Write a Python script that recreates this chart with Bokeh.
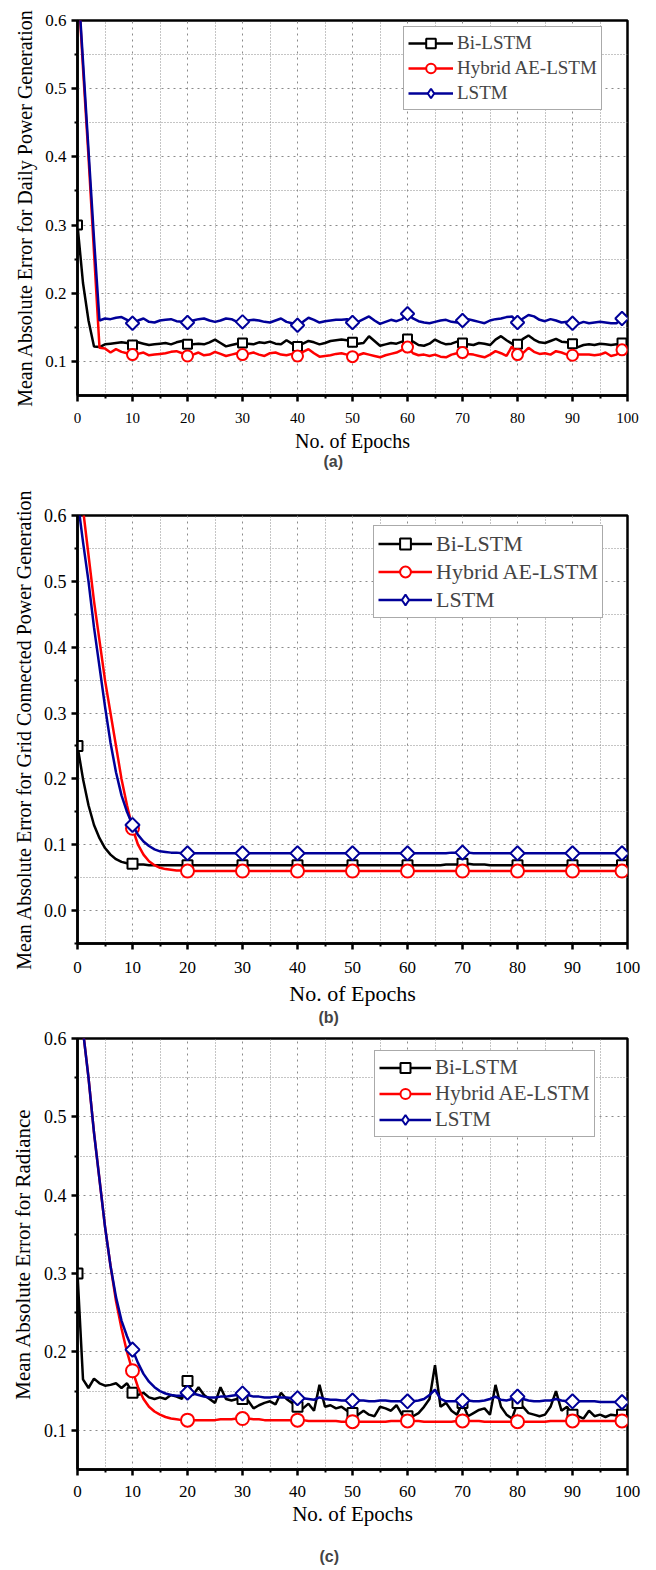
import math
from bokeh.plotting import figure
from bokeh.layouts import column
from bokeh.models import FixedTicker, Range1d, Title, Legend, LegendItem, PrintfTickFormatter
from bokeh.embed import file_html
from bokeh.resources import INLINE

EPOCHS = list(range(100))
MARK_IDX = [0, 10, 20, 30, 40, 50, 60, 70, 80, 90, 99]
SERIES_NAMES = ["Bi-LSTM", "Hybrid AE-LSTM", "LSTM"]
X_TICKS = [0, 10, 20, 30, 40, 50, 60, 70, 80, 90, 100]
X_MINOR = [5, 15, 25, 35, 45, 55, 65, 75, 85, 95]

# ---------------- panel (a): Daily Power Generation ----------------
BI_A = [0.300, 0.215, 0.160, 0.122, 0.121, 0.125, 0.126, 0.127, 0.128, 0.127,
        0.124, 0.128, 0.126, 0.124, 0.125, 0.126, 0.127, 0.125, 0.128, 0.130,
        0.125, 0.125, 0.126, 0.125, 0.128, 0.132, 0.127, 0.122, 0.124, 0.126,
        0.127, 0.126, 0.125, 0.128, 0.127, 0.129, 0.126, 0.125, 0.131, 0.126,
        0.122, 0.126, 0.130, 0.128, 0.125, 0.127, 0.130, 0.131, 0.132, 0.131,
        0.128, 0.126, 0.127, 0.137, 0.130, 0.123, 0.125, 0.127, 0.126, 0.129,
        0.133, 0.129, 0.124, 0.123, 0.126, 0.132, 0.128, 0.125, 0.126, 0.129,
        0.127, 0.125, 0.124, 0.127, 0.126, 0.124, 0.132, 0.137, 0.131, 0.126,
        0.125, 0.133, 0.138, 0.132, 0.128, 0.127, 0.130, 0.133, 0.129, 0.128,
        0.126, 0.121, 0.124, 0.125, 0.124, 0.126, 0.125, 0.124, 0.125, 0.127]
HY_A = [0.670, 0.530, 0.400, 0.260, 0.120, 0.119, 0.113, 0.118, 0.114, 0.112,
        0.110, 0.111, 0.113, 0.109, 0.110, 0.111, 0.112, 0.114, 0.115, 0.112,
        0.108, 0.110, 0.113, 0.109, 0.110, 0.114, 0.111, 0.108, 0.110, 0.112,
        0.110, 0.111, 0.113, 0.110, 0.108, 0.112, 0.113, 0.110, 0.109, 0.111,
        0.108, 0.114, 0.118, 0.112, 0.107, 0.108, 0.109, 0.111, 0.112, 0.110,
        0.107, 0.109, 0.112, 0.110, 0.108, 0.106, 0.109, 0.111, 0.113, 0.117,
        0.121, 0.112, 0.109, 0.110, 0.108, 0.110, 0.107, 0.106, 0.110, 0.112,
        0.113, 0.111, 0.110, 0.108, 0.106, 0.110, 0.115, 0.112, 0.108, 0.122,
        0.110, 0.112, 0.120, 0.114, 0.111, 0.112, 0.110, 0.115, 0.113, 0.110,
        0.109, 0.110, 0.110, 0.110, 0.109, 0.110, 0.113, 0.108, 0.110, 0.117]
LS_A = [0.670, 0.540, 0.410, 0.280, 0.160, 0.163, 0.162, 0.164, 0.165, 0.161,
        0.156, 0.160, 0.163, 0.158, 0.157, 0.160, 0.161, 0.162, 0.159, 0.158,
        0.157, 0.160, 0.162, 0.163, 0.160, 0.158, 0.160, 0.163, 0.162, 0.158,
        0.158, 0.160, 0.161, 0.160, 0.158, 0.157, 0.160, 0.163, 0.158, 0.156,
        0.153, 0.158, 0.164, 0.161, 0.157, 0.159, 0.160, 0.161, 0.161, 0.162,
        0.157, 0.158, 0.162, 0.166, 0.160, 0.155, 0.158, 0.161, 0.159, 0.162,
        0.170, 0.163, 0.159, 0.157, 0.156, 0.158, 0.160, 0.161, 0.158, 0.157,
        0.160, 0.162, 0.160, 0.158, 0.156, 0.160, 0.162, 0.163, 0.165, 0.166,
        0.157, 0.163, 0.168, 0.166, 0.161, 0.159, 0.162, 0.160, 0.157, 0.158,
        0.156, 0.155, 0.158, 0.156, 0.157, 0.158, 0.157, 0.156, 0.156, 0.163]

# ---------------- panel (b): Grid Connected Power Generation ----------------
BI_B = [0.250, 0.200, 0.160, 0.130, 0.110, 0.095, 0.085, 0.078, 0.074, 0.072,
        0.071, 0.070, 0.070, 0.069, 0.069, 0.069, 0.069, 0.069, 0.069, 0.069,
        0.069, 0.069, 0.069, 0.069, 0.069, 0.069, 0.069, 0.069, 0.069, 0.069,
        0.069, 0.069, 0.069, 0.069, 0.069, 0.069, 0.069, 0.069, 0.069, 0.069,
        0.069, 0.069, 0.069, 0.069, 0.069, 0.069, 0.069, 0.069, 0.069, 0.069,
        0.069, 0.069, 0.069, 0.069, 0.069, 0.069, 0.069, 0.069, 0.069, 0.069,
        0.069, 0.069, 0.069, 0.069, 0.069, 0.069, 0.069, 0.070, 0.070, 0.070,
        0.071, 0.071, 0.070, 0.070, 0.070, 0.069, 0.069, 0.069, 0.069, 0.069,
        0.069, 0.069, 0.069, 0.069, 0.069, 0.069, 0.069, 0.069, 0.069, 0.069,
        0.069, 0.069, 0.069, 0.069, 0.069, 0.069, 0.069, 0.069, 0.069, 0.069]
HY_B = [0.660, 0.610, 0.540, 0.470, 0.410, 0.350, 0.300, 0.250, 0.200, 0.160,
        0.125, 0.100, 0.085, 0.075, 0.069, 0.065, 0.063, 0.062, 0.061, 0.061,
        0.060, 0.060, 0.060, 0.060, 0.060, 0.060, 0.060, 0.060, 0.060, 0.060,
        0.060, 0.060, 0.060, 0.060, 0.060, 0.060, 0.060, 0.060, 0.060, 0.060,
        0.060, 0.060, 0.060, 0.060, 0.060, 0.060, 0.060, 0.060, 0.060, 0.060,
        0.060, 0.060, 0.060, 0.060, 0.060, 0.060, 0.060, 0.060, 0.060, 0.060,
        0.060, 0.060, 0.060, 0.060, 0.060, 0.060, 0.060, 0.060, 0.060, 0.060,
        0.060, 0.060, 0.060, 0.060, 0.060, 0.060, 0.060, 0.060, 0.060, 0.060,
        0.060, 0.060, 0.060, 0.060, 0.060, 0.060, 0.060, 0.060, 0.060, 0.060,
        0.060, 0.060, 0.060, 0.060, 0.060, 0.060, 0.060, 0.060, 0.060, 0.060]
LS_B = [0.625, 0.560, 0.500, 0.430, 0.370, 0.310, 0.255, 0.210, 0.175, 0.150,
        0.130, 0.115, 0.105, 0.098, 0.093, 0.090, 0.089, 0.088, 0.088, 0.087,
        0.087, 0.087, 0.087, 0.087, 0.087, 0.087, 0.087, 0.087, 0.087, 0.087,
        0.087, 0.087, 0.087, 0.087, 0.087, 0.087, 0.087, 0.087, 0.087, 0.087,
        0.087, 0.087, 0.087, 0.087, 0.087, 0.087, 0.087, 0.087, 0.087, 0.087,
        0.087, 0.087, 0.087, 0.087, 0.087, 0.087, 0.087, 0.087, 0.087, 0.087,
        0.087, 0.087, 0.087, 0.087, 0.087, 0.087, 0.087, 0.087, 0.088, 0.088,
        0.088, 0.088, 0.087, 0.087, 0.087, 0.087, 0.087, 0.087, 0.087, 0.087,
        0.087, 0.087, 0.087, 0.087, 0.087, 0.087, 0.087, 0.087, 0.087, 0.087,
        0.087, 0.087, 0.087, 0.087, 0.087, 0.087, 0.087, 0.087, 0.087, 0.087]

# ---------------- panel (c): Radiance ----------------
BI_C = [0.300, 0.165, 0.154, 0.166, 0.160, 0.157, 0.158, 0.160, 0.154, 0.160,
        0.148, 0.145, 0.148, 0.142, 0.140, 0.142, 0.140, 0.145, 0.143, 0.140,
        0.163, 0.145, 0.155, 0.145, 0.140, 0.135, 0.155, 0.140, 0.138, 0.140,
        0.140, 0.138, 0.128, 0.132, 0.135, 0.137, 0.133, 0.148, 0.140, 0.135,
        0.130, 0.128, 0.134, 0.125, 0.158, 0.130, 0.132, 0.128, 0.130, 0.125,
        0.122, 0.120, 0.125, 0.120, 0.118, 0.130, 0.128, 0.125, 0.132, 0.120,
        0.118, 0.118, 0.122, 0.130, 0.140, 0.183, 0.130, 0.135, 0.125, 0.120,
        0.135, 0.118, 0.122, 0.126, 0.128, 0.120, 0.158, 0.130, 0.120, 0.115,
        0.135, 0.130, 0.122, 0.120, 0.118, 0.120, 0.130, 0.150, 0.125, 0.130,
        0.120, 0.118, 0.115, 0.125, 0.118, 0.120, 0.117, 0.120, 0.119, 0.120]
HY_C = [0.660, 0.610, 0.550, 0.480, 0.420, 0.360, 0.310, 0.265, 0.230, 0.200,
        0.176, 0.155, 0.140, 0.130, 0.124, 0.120, 0.117, 0.115, 0.114, 0.113,
        0.113, 0.113, 0.113, 0.113, 0.113, 0.113, 0.114, 0.114, 0.114, 0.115,
        0.115, 0.115, 0.114, 0.114, 0.113, 0.113, 0.113, 0.113, 0.113, 0.113,
        0.113, 0.113, 0.112, 0.112, 0.112, 0.112, 0.112, 0.112, 0.111, 0.111,
        0.111, 0.111, 0.111, 0.111, 0.111, 0.111, 0.111, 0.112, 0.112, 0.112,
        0.112, 0.112, 0.112, 0.111, 0.111, 0.111, 0.111, 0.111, 0.111, 0.112,
        0.112, 0.112, 0.112, 0.112, 0.111, 0.111, 0.111, 0.111, 0.111, 0.111,
        0.111, 0.111, 0.111, 0.111, 0.111, 0.111, 0.112, 0.112, 0.112, 0.112,
        0.112, 0.112, 0.112, 0.112, 0.112, 0.112, 0.112, 0.112, 0.112, 0.112]
LS_C = [0.660, 0.610, 0.550, 0.480, 0.420, 0.360, 0.310, 0.270, 0.240, 0.220,
        0.203, 0.186, 0.172, 0.162, 0.155, 0.150, 0.147, 0.145, 0.144, 0.144,
        0.148, 0.147, 0.145, 0.143, 0.142, 0.142, 0.143, 0.143, 0.144, 0.145,
        0.147, 0.145, 0.143, 0.143, 0.142, 0.142, 0.143, 0.142, 0.142, 0.141,
        0.141, 0.141, 0.140, 0.139, 0.142, 0.140, 0.139, 0.139, 0.138, 0.138,
        0.138, 0.138, 0.138, 0.137, 0.137, 0.138, 0.138, 0.137, 0.137, 0.137,
        0.137, 0.137, 0.138, 0.140, 0.145, 0.152, 0.140, 0.137, 0.137, 0.137,
        0.138, 0.138, 0.137, 0.137, 0.138, 0.140, 0.143, 0.139, 0.138, 0.140,
        0.143, 0.140, 0.138, 0.137, 0.137, 0.138, 0.138, 0.140, 0.138, 0.137,
        0.137, 0.137, 0.137, 0.137, 0.137, 0.136, 0.136, 0.136, 0.136, 0.136]

COLORS = ["black", "#ff0000", "#000099"]
SERIF = "Liberation Serif"


def make_panel(series, y_lo, y_ticks, y_minor, ylabel, caption, height,
               borders, fonts, standoffs, legend_cfg, marker_sizes, cap_offset, spacer=None):
    left, right, top, bottom = borders
    tick_fs_x, tick_fs_y, xlab_fs, ylab_fs, leg_fs = fonts
    tick_so, lab_so, cap_so = standoffs
    p = figure(width=656, height=height, x_range=Range1d(0, 100), y_range=Range1d(y_lo, 0.6),
               output_backend="svg", toolbar_location=None,
               min_border_left=left, min_border_right=right,
               min_border_top=top, min_border_bottom=bottom)
    p.background_fill_color = "white"
    p.border_fill_color = "white"
    p.outline_line_color = "black"
    p.outline_line_width = 2.5
    p.outline_line_alpha = 1.0

    p.xaxis.ticker = FixedTicker(ticks=X_TICKS, minor_ticks=X_MINOR)
    p.yaxis.ticker = FixedTicker(ticks=y_ticks, minor_ticks=y_minor)
    p.yaxis.formatter = PrintfTickFormatter(format="%.1f")
    for ax in (p.xaxis, p.yaxis):
        ax.axis_line_width = 2.5
        ax.axis_line_color = "black"
        ax.major_tick_line_width = 2.5
        ax.major_tick_out = 6
        ax.major_tick_in = 0
        ax.minor_tick_line_width = 2
        ax.minor_tick_out = 3
        ax.minor_tick_in = 0
        ax.major_label_text_font = SERIF
        ax.major_label_text_color = "black"
        ax.axis_label_text_font = SERIF
        ax.axis_label_text_font_style = "normal"
        ax.axis_label_text_color = "black"
    p.xaxis.major_label_text_font_size = f"{tick_fs_x}px"
    p.yaxis.major_label_text_font_size = f"{tick_fs_y}px"
    p.xaxis.axis_label = "No. of Epochs"
    p.yaxis.axis_label = ylabel
    p.xaxis.axis_label_text_font_size = f"{xlab_fs}px"
    p.yaxis.axis_label_text_font_size = f"{ylab_fs}px"
    p.xaxis.major_label_standoff = tick_so
    p.yaxis.major_label_standoff = 5
    p.xaxis.axis_label_standoff = lab_so
    p.yaxis.axis_label_standoff = 6

    for g in (p.xgrid, p.ygrid):
        g.grid_line_color = "#8a8a8a"
        g.grid_line_width = 1
        g.grid_line_dash = "2 4"
        g.minor_grid_line_color = "#8a8a8a"
        g.minor_grid_line_width = 1
        g.minor_grid_line_dash = "1 2"

    mx = [EPOCHS[k] for k in MARK_IDX]
    items = []
    for i, (name, ys) in enumerate(zip(SERIES_NAMES, series)):
        col = COLORS[i]
        my = [ys[k] for k in MARK_IDX]
        ln = p.line(EPOCHS, ys, line_color=col, line_width=2.5)
        if i < 2:
            sc = p.scatter(mx, my, marker=["square", "circle"][i], size=marker_sizes[i],
                           fill_color="white", line_color=col, line_width=2)
            rends = [ln, sc]
        else:
            # true diamonds (rotated squares) for the later markers; the epoch-0
            # marker (above the visible range) is a 'diamond' so the key shows one
            sc = p.scatter(mx[1:], my[1:], marker="square", angle=math.pi / 4,
                           size=marker_sizes[i], fill_color="white", line_color=col, line_width=2)
            key = p.scatter(mx[:1], my[:1], marker="diamond", size=marker_sizes[i] * 1.4,
                            fill_color="white", line_color=col, line_width=2)
            rends = [ln, key]
        items.append(LegendItem(label=name, renderers=rends))

    lx, ly, gw, gh, lh, sp, pad = legend_cfg
    leg = Legend(items=items, location=(lx, ly), glyph_width=gw, glyph_height=gh,
                 label_height=lh, spacing=sp, padding=pad, margin=0,
                 label_text_font=SERIF, label_text_font_size=f"{leg_fs}px",
                 label_standoff=4, border_line_color="#555555", border_line_width=1.5,
                 background_fill_color="white", background_fill_alpha=1.0)
    p.add_layout(leg)

    if spacer is not None:
        p.add_layout(Title(text=" ", text_font_size="13px", standoff=spacer), "below")
    cap = Title(text=caption, align="left", text_font="Liberation Sans",
                text_font_style="bold", text_font_size="16px", offset=cap_offset,
                standoff=cap_so)
    p.add_layout(cap, "below")
    return p


pa = make_panel([BI_A, HY_A, LS_A], 0.05,
                [0.1, 0.2, 0.3, 0.4, 0.5, 0.6], [0.15, 0.25, 0.35, 0.45, 0.55],
                "Mean Absolute Error for Daily Power Generation", "(a)", 480,
                (72, 28, 20, 85), (15, 17, 20, 20, 19), (11, 4, -30),
                (326, 285, 45, 24, 22, 1, 4), (9, 11, 9.5), 246)

pb = make_panel([BI_B, HY_B, LS_B], -0.05,
                [0.0, 0.1, 0.2, 0.3, 0.4, 0.5, 0.6], [-0.05, 0.05, 0.15, 0.25, 0.35, 0.45, 0.55],
                "Mean Absolute Error for Grid Connected Power Generation", "(b)", 550,
                (77, 29, 35, 87), (17, 18, 22, 20, 22), (12, 5, -3),
                (296, 325, 54, 27, 27, 1, 4), (10, 13, 10), 241)

pc = make_panel([BI_C, HY_C, LS_C], 0.05,
                [0.1, 0.2, 0.3, 0.4, 0.5, 0.6], [0.15, 0.25, 0.35, 0.45, 0.55],
                "Mean Absolute Error for Radiance", "(c)", 540,
                (76, 29, 8, 101), (17, 18, 21, 21, 21), (10, 2, 0),
                (297, 332, 52, 25, 25, 1, 4), (10, 13, 10), 242, spacer=0)

layout = column(pa, pb, pc, spacing=0)
open("out.html", "w").write(file_html(layout, INLINE))
